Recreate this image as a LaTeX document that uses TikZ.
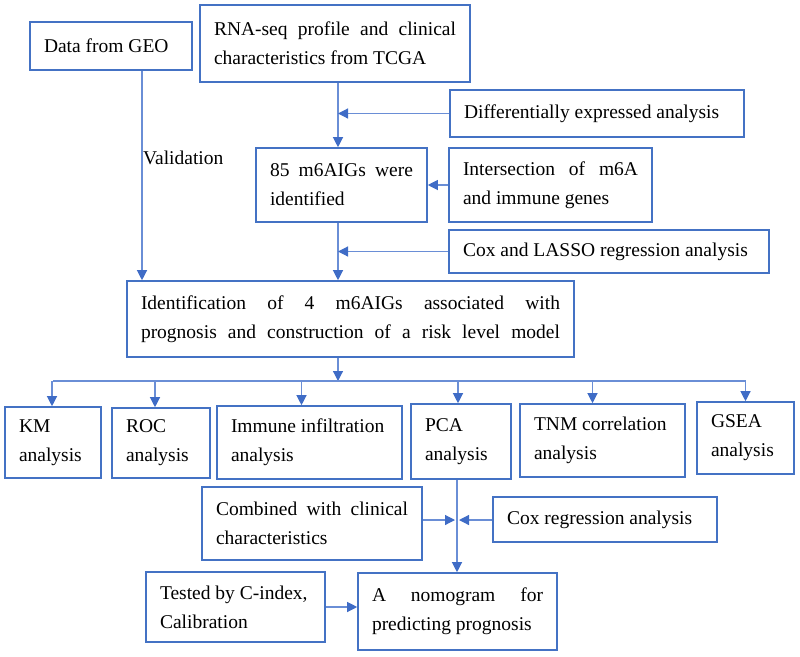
\documentclass[tikz,border=0pt]{standalone}
\usepackage{fontspec}
\setmainfont{Liberation Serif}
\usetikzlibrary{arrows.meta}
\definecolor{boxblue}{HTML}{4472C4}
\definecolor{lineblue}{HTML}{6A8ED6}
\definecolor{tipblue}{HTML}{3F6CC6}

\begin{document}
\begin{tikzpicture}
  [x=1pt, y=-1pt,
   every node/.style={font=\fontsize{19.5}{29}\selectfont},
   box/.style={draw=boxblue, line width=1.6pt, align=justify, inner sep=0pt},
   line/.style={draw=lineblue, line width=1.2pt},
   arr/.style={line, -{Triangle[length=10pt,width=10pt,color=tipblue]}}]
  \useasboundingbox (0,0) rectangle (800,656);

  % top part
  \node[box, minimum width=162pt, minimum height=48pt, text width=134pt] (geo) at (111,46) {Data from GEO};
  \node[box, minimum width=270pt, minimum height=77pt, text width=242pt] (tcga) at (335,43.5)
    {RNA-seq profile and clinical\linebreak characteristics from TCGA};
  \node[box, minimum width=294pt, minimum height=47pt, text width=266pt] (diff) at (597,113.5) {Differentially expressed analysis};
  \node[box, minimum width=171pt, minimum height=74pt, text width=143pt] (mig) at (341.5,185)
    {85 m6AIGs were\linebreak identified};
  \node[box, minimum width=203pt, minimum height=74pt, text width=175pt] (inter) at (550.5,185)
    {Intersection of m6A\linebreak and immune genes};
  \node[box, minimum width=320pt, minimum height=43pt, text width=292pt] (coxl) at (609,251.5) {Cox and LASSO regression analysis};
  \node[box, minimum width=447pt, minimum height=76pt, text width=419pt] (ident) at (350.5,319)
    {Identification of 4 m6AIGs associated with\linebreak
     \makebox[419pt][s]{prognosis and construction of a risk level model}};

  % analyses
  \node[box, minimum width=96pt, minimum height=71pt, text width=68pt] (km) at (53,442.5) {KM\\analysis};
  \node[box, minimum width=98pt, minimum height=70pt, text width=70pt] (roc) at (161,443) {ROC\\analysis};
  \node[box, minimum width=185pt, minimum height=73pt, text width=157pt] (immune) at (309.5,442.5) {Immune infiltration\\analysis};
  \node[box, minimum width=100pt, minimum height=75pt, text width=72pt] (pca) at (461,441.5) {PCA\\analysis};
  \node[box, minimum width=165pt, minimum height=73pt, text width=137pt] (tnm) at (602.5,440.5) {TNM correlation\\analysis};
  \node[box, minimum width=97pt, minimum height=72pt, text width=69pt] (gsea) at (745.5,438) {GSEA\\analysis};

  % nomogram
  \node[box, minimum width=220pt, minimum height=73pt, text width=192pt] (comb) at (312,523.5)
    {Combined with clinical\linebreak characteristics};
  \node[box, minimum width=224pt, minimum height=45pt, text width=196pt] (coxr) at (605,519.5) {Cox regression analysis};
  \node[box, minimum width=199pt, minimum height=77pt, text width=171pt] (nomo) at (457.5,611.5)
    {A nomogram for\linebreak predicting prognosis};
  \node[box, minimum width=179pt, minimum height=70pt, text width=151pt] (test) at (235.5,607)
    {Tested by C-index,\\Calibration};

  \coordinate (gv) at (142,0);
  \coordinate (sp) at (338,0);
  \coordinate (br) at (0,381);
  \coordinate (jn) at (457,520);

  \draw[arr] (geo.south -| gv) -- (ident.north -| gv);
  \node[anchor=west, inner sep=1pt] (val) at (142,158) {Validation};

  \draw[arr] (tcga.south -| sp) -- (mig.north -| sp);
  \draw[arr] (diff.west) -- (diff.west -| sp);
  \draw[arr] (inter.west) -- (mig.east);
  \draw[arr] (mig.south -| sp) -- (ident.north -| sp);
  \draw[arr] (coxl.west) -- (coxl.west -| sp);

  \draw[arr] (ident.south -| sp) -- (sp |- br);
  \draw[line] (br -| km.north) -- (br -| gsea.north);
  \foreach \n/\dx in {km/-1,roc/-6,immune/-8,pca/-3,tnm/-10,gsea/0}{
    \coordinate (top) at ([xshift=\dx pt]\n.north);
    \draw[arr] (top |- br) -- (top);
  }

  \draw[arr] (pca.south -| jn) -- (nomo.north -| jn);
  \draw[arr, shorten >=2pt] (comb.east |- jn) -- (jn);
  \draw[arr, shorten >=2pt] (coxr.west |- jn) -- (jn);
  \draw[arr] (test.east) -- (test.east -| nomo.west);
\end{tikzpicture}
\end{document}
